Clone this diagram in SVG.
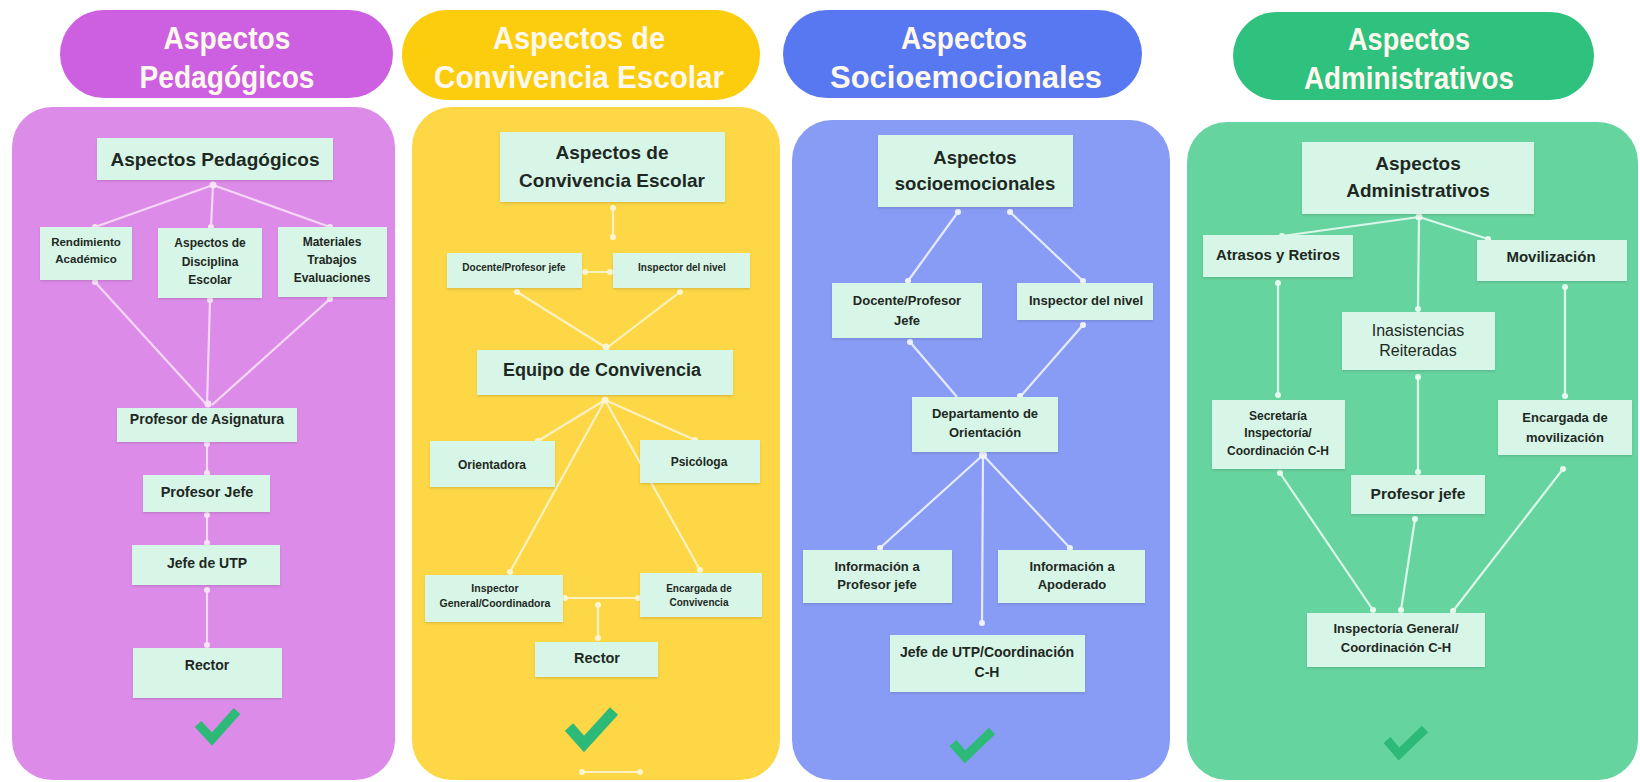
<svg xmlns="http://www.w3.org/2000/svg" width="1640" height="782" viewBox="0 0 1640 782">
<defs>
<filter id="sh" x="-10%" y="-10%" width="120%" height="130%">
<feDropShadow dx="0" dy="1.5" stdDeviation="1" flood-color="#000000" flood-opacity="0.12"/>
</filter>
</defs>
<style>
.hd{font-family:"Liberation Sans",Arial,sans-serif;font-weight:bold;font-size:32px;fill:#fff8ee;text-anchor:middle}
.nb{fill:#d8f6e7;filter:url(#sh)}
.t{font-family:"Liberation Sans",Arial,sans-serif;font-weight:bold;fill:#1e2823;text-anchor:middle}
.r{font-weight:normal}
.cp{stroke:#f5d8f6;stroke-width:2.2;fill:none}
.cy{stroke:#fff2c2;stroke-width:2.2;fill:none}
.cb{stroke:#e5eaff;stroke-width:2.2;fill:none}
.cg{stroke:#dcf7ea;stroke-width:2.2;fill:none}
.dp{fill:#f7e2f8}.dy{fill:#fff5d0}.db{fill:#eef1ff}.dg{fill:#e6faef}
.chk{fill:none;stroke:#2dba78;stroke-width:9;stroke-linecap:butt;stroke-linejoin:miter}
</style>
<rect width="1640" height="782" fill="#ffffff"/>

<!-- headers -->
<g id="hdr-pedagogicos">
<rect x="60" y="10" width="333" height="88" rx="44" fill="#cd5fe1"/>
<text class="hd" x="227" y="49" textLength="127" lengthAdjust="spacingAndGlyphs">Aspectos</text>
<text class="hd" x="227" y="88" textLength="175" lengthAdjust="spacingAndGlyphs">Pedagógicos</text>
</g>
<g id="hdr-convivencia">
<rect x="402" y="10" width="358" height="90" rx="45" fill="#fccd0c"/>
<text class="hd" x="579" y="49" textLength="172" lengthAdjust="spacingAndGlyphs">Aspectos de</text>
<text class="hd" x="579" y="88" textLength="290" lengthAdjust="spacingAndGlyphs">Convivencia Escolar</text>
</g>
<g id="hdr-socioemocionales">
<rect x="783" y="10" width="359" height="88" rx="44" fill="#5878f1"/>
<text class="hd" x="964" y="49" textLength="126" lengthAdjust="spacingAndGlyphs">Aspectos</text>
<text class="hd" x="966" y="88" textLength="272" lengthAdjust="spacingAndGlyphs">Socioemocionales</text>
</g>
<g id="hdr-administrativos">
<rect x="1233" y="12" width="361" height="88" rx="44" fill="#2fc17e"/>
<text class="hd" x="1409" y="50" textLength="122" lengthAdjust="spacingAndGlyphs">Aspectos</text>
<text class="hd" x="1409" y="89" textLength="210" lengthAdjust="spacingAndGlyphs">Administrativos</text>
</g>

<!-- panels -->
<rect id="panel-pink" x="12" y="107" width="383" height="673" rx="40" fill="#dc8ce8"/>
<rect id="panel-yellow" x="412" y="107" width="368" height="673" rx="40" fill="#fdd745"/>
<rect id="panel-blue" x="792" y="120" width="378" height="660" rx="40" fill="#889cf5"/>
<rect id="panel-green" x="1187" y="122" width="451" height="658" rx="40" fill="#66d49f"/>

<!-- connectors -->
<g id="connectors">
<g class="cp">
<path d="M213 185 L95 227 M213 185 L211 227 M213 185 L330 227"/>
<path d="M95 282 L207 405 M210 300 L207 405 M330 299 L212 405"/>
<path d="M207 443 V474 M207 513 V544 M207 588 V646"/>
</g>
<g class="dp">
<circle cx="213" cy="185" r="3.5"/><circle cx="95" cy="227" r="3"/><circle cx="211" cy="227" r="3"/><circle cx="330" cy="227" r="3"/>
<circle cx="95" cy="282" r="3"/><circle cx="210" cy="300" r="3"/><circle cx="330" cy="299" r="3"/><circle cx="208" cy="404" r="3.5"/>
<circle cx="207" cy="444" r="3"/><circle cx="207" cy="473" r="3"/><circle cx="207" cy="515" r="3"/><circle cx="207" cy="543" r="3"/>
<circle cx="207" cy="590" r="3"/><circle cx="207" cy="645" r="3"/>
</g>
<g class="cy">
<path d="M613 208 V237 M585 272 H610"/>
<path d="M517 292 L605 347 M680 292 L608 347"/>
<path d="M605 400 L538 441 M605 400 L695 440 M605 400 L510 572 M605 400 L700 570"/>
<path d="M565 598 H638 M598 605 V638 M582 772 H640"/>
</g>
<g class="dy">
<circle cx="613" cy="208" r="3"/><circle cx="613" cy="237" r="3"/><circle cx="585" cy="272" r="3"/><circle cx="610" cy="272" r="3"/>
<circle cx="517" cy="292" r="3"/><circle cx="680" cy="292" r="3"/><circle cx="606" cy="347" r="3.5"/>
<circle cx="605" cy="400" r="3.5"/><circle cx="538" cy="441" r="3"/><circle cx="695" cy="440" r="3"/><circle cx="510" cy="572" r="3"/><circle cx="700" cy="570" r="3"/>
<circle cx="565" cy="598" r="3"/><circle cx="638" cy="598" r="3"/><circle cx="598" cy="605" r="3"/><circle cx="598" cy="638" r="3"/>
<circle cx="582" cy="772" r="3"/><circle cx="640" cy="772" r="3"/>
</g>
<g class="cb">
<path d="M958 212 L908 281 M1010 212 L1083 281"/>
<path d="M910 342 L957 397 M1083 325 L1020 397"/>
<path d="M983 455 L880 548 M983 455 L1070 548 M983 455 L982 623"/>
</g>
<g class="db">
<circle cx="958" cy="212" r="3"/><circle cx="1010" cy="212" r="3"/><circle cx="908" cy="281" r="3"/><circle cx="1083" cy="281" r="3"/>
<circle cx="910" cy="342" r="3"/><circle cx="1083" cy="325" r="3"/><circle cx="1020" cy="396" r="3"/>
<circle cx="983" cy="455" r="4"/><circle cx="880" cy="548" r="3"/><circle cx="1070" cy="548" r="3"/><circle cx="982" cy="623" r="3"/>
</g>
<g class="cg">
<path d="M1419 217 L1282 236 M1419 217 L1488 239 M1419 217 L1418 309"/>
<path d="M1278 283 V395 M1565 287 V396 M1418 377 V472"/>
<path d="M1280 473 L1373 610 M1415 519 L1401 610 M1563 469 L1453 611"/>
</g>
<g class="dg">
<circle cx="1419" cy="217" r="3.5"/><circle cx="1282" cy="236" r="3"/><circle cx="1488" cy="239" r="3"/><circle cx="1418" cy="309" r="3"/>
<circle cx="1278" cy="283" r="3"/><circle cx="1278" cy="395" r="3"/><circle cx="1565" cy="287" r="3"/><circle cx="1565" cy="396" r="3"/>
<circle cx="1418" cy="377" r="3"/><circle cx="1418" cy="472" r="3"/>
<circle cx="1280" cy="473" r="3"/><circle cx="1373" cy="610" r="3"/><circle cx="1415" cy="519" r="3"/><circle cx="1401" cy="610" r="3"/><circle cx="1563" cy="469" r="3"/><circle cx="1453" cy="611" r="3"/>
</g>
</g>

<!-- pink nodes -->
<g id="p-title"><rect class="nb" x="97" y="138" width="236" height="42"/><text class="t" x="215" y="166" font-size="19">Aspectos Pedagógicos</text></g>
<g id="p-rendimiento"><rect class="nb" x="40" y="227" width="92" height="53"/><text class="t" x="86" y="246" font-size="11.5">Rendimiento</text><text class="t" x="86" y="263" font-size="11.5">Académico</text></g>
<g id="p-disciplina"><rect class="nb" x="158" y="228" width="104" height="70"/><text class="t" x="210" y="247" font-size="12">Aspectos de</text><text class="t" x="210" y="266" font-size="12">Disciplina</text><text class="t" x="210" y="284" font-size="12">Escolar</text></g>
<g id="p-materiales"><rect class="nb" x="278" y="227" width="109" height="70"/><text class="t" x="332" y="246" font-size="12">Materiales</text><text class="t" x="332" y="264" font-size="12">Trabajos</text><text class="t" x="332" y="282" font-size="12">Evaluaciones</text></g>
<g id="p-asignatura"><rect class="nb" x="117" y="408" width="180" height="34"/><text class="t" x="207" y="424" font-size="14">Profesor de Asignatura</text></g>
<g id="p-jefe"><rect class="nb" x="143" y="475" width="127" height="37"/><text class="t" x="207" y="497" font-size="14.5">Profesor Jefe</text></g>
<g id="p-utp"><rect class="nb" x="132" y="545" width="148" height="40"/><text class="t" x="207" y="568" font-size="14">Jefe de UTP</text></g>
<g id="p-rector"><rect class="nb" x="133" y="648" width="149" height="50"/><text class="t" x="207" y="670" font-size="14">Rector</text></g>
<polyline class="chk" points="198,724 212,739 237,711"/>

<!-- yellow nodes -->
<g id="y-title"><rect class="nb" x="500" y="132" width="225" height="70"/><text class="t" x="612" y="159" font-size="19">Aspectos de</text><text class="t" x="612" y="187" font-size="19">Convivencia Escolar</text></g>
<g id="y-docente"><rect class="nb" x="447" y="253" width="135" height="35"/><text class="t" x="514" y="270.5" font-size="10">Docente/Profesor jefe</text></g>
<g id="y-inspector"><rect class="nb" x="613" y="253" width="137" height="35"/><text class="t" x="682" y="270.5" font-size="10">Inspector del nivel</text></g>
<g id="y-equipo"><rect class="nb" x="477" y="350" width="256" height="45"/><text class="t" x="602" y="376" font-size="18">Equipo de Convivencia</text></g>
<g id="y-orientadora"><rect class="nb" x="430" y="441" width="125" height="46"/><text class="t" x="492" y="469" font-size="12">Orientadora</text></g>
<g id="y-psicologa"><rect class="nb" x="640" y="440" width="120" height="43"/><text class="t" x="699" y="466" font-size="12">Psicóloga</text></g>
<g id="y-inspgen"><rect class="nb" x="425" y="575" width="138" height="47"/><text class="t" x="495" y="592" font-size="10.5">Inspector</text><text class="t" x="495" y="607" font-size="10.5">General/Coordinadora</text></g>
<g id="y-encargada"><rect class="nb" x="640" y="573" width="122" height="44"/><text class="t" x="699" y="591.5" font-size="10">Encargada de</text><text class="t" x="699" y="605.5" font-size="10">Convivencia</text></g>
<g id="y-rector"><rect class="nb" x="535" y="642" width="123" height="35"/><text class="t" x="597" y="663" font-size="14.5">Rector</text></g>
<polyline class="chk" points="569,727 584,744 614,711" style="stroke-width:11"/>

<!-- blue nodes -->
<g id="b-title"><rect class="nb" x="878" y="135" width="195" height="72"/><text class="t" x="975" y="163.5" font-size="18.5">Aspectos</text><text class="t" x="975" y="189.5" font-size="18.5">socioemocionales</text></g>
<g id="b-docente"><rect class="nb" x="832" y="283" width="150" height="55"/><text class="t" x="907" y="304.5" font-size="13">Docente/Profesor</text><text class="t" x="907" y="324.5" font-size="13">Jefe</text></g>
<g id="b-inspector"><rect class="nb" x="1017" y="283" width="136" height="37"/><text class="t" x="1086" y="304.5" font-size="13">Inspector del nivel</text></g>
<g id="b-depto"><rect class="nb" x="912" y="397" width="146" height="55"/><text class="t" x="985" y="417.5" font-size="13">Departamento de</text><text class="t" x="985" y="436.5" font-size="13">Orientación</text></g>
<g id="b-infoprof"><rect class="nb" x="803" y="550" width="149" height="53"/><text class="t" x="877" y="570.5" font-size="13">Información a</text><text class="t" x="877" y="588.5" font-size="13">Profesor jefe</text></g>
<g id="b-infoapod"><rect class="nb" x="998" y="550" width="147" height="53"/><text class="t" x="1072" y="570.5" font-size="13">Información a</text><text class="t" x="1072" y="588.5" font-size="13">Apoderado</text></g>
<g id="b-utp"><rect class="nb" x="890" y="635" width="195" height="57"/><text class="t" x="987" y="657" font-size="14">Jefe de UTP/Coordinación</text><text class="t" x="987" y="677" font-size="14">C-H</text></g>
<polyline class="chk" points="953,743 965,757 992,731"/>

<!-- green nodes -->
<g id="g-title"><rect class="nb" x="1302" y="142" width="232" height="72"/><text class="t" x="1418" y="169.5" font-size="19">Aspectos</text><text class="t" x="1418" y="196.5" font-size="19">Administrativos</text></g>
<g id="g-atrasos"><rect class="nb" x="1203" y="235" width="150" height="42"/><text class="t" x="1278" y="260" font-size="15">Atrasos y Retiros</text></g>
<g id="g-movilizacion"><rect class="nb" x="1477" y="240" width="150" height="41"/><text class="t" x="1551" y="262" font-size="15">Movilización</text></g>
<g id="g-inasistencias"><rect class="nb" x="1342" y="312" width="153" height="58"/><text class="t r" x="1418" y="335.5" font-size="16">Inasistencias</text><text class="t r" x="1418" y="355.5" font-size="16">Reiteradas</text></g>
<g id="g-secretaria"><rect class="nb" x="1212" y="400" width="133" height="69"/><text class="t" x="1278" y="420" font-size="12">Secretaría</text><text class="t" x="1278" y="437" font-size="12">Inspectoría/</text><text class="t" x="1278" y="455" font-size="12">Coordinación C-H</text></g>
<g id="g-encargada"><rect class="nb" x="1498" y="400" width="134" height="55"/><text class="t" x="1565" y="421.5" font-size="13">Encargada de</text><text class="t" x="1565" y="441.5" font-size="13">movilización</text></g>
<g id="g-profjefe"><rect class="nb" x="1351" y="475" width="134" height="39"/><text class="t" x="1418" y="498.5" font-size="15.5">Profesor jefe</text></g>
<g id="g-inspgen"><rect class="nb" x="1307" y="613" width="178" height="54"/><text class="t" x="1396" y="632.5" font-size="13">Inspectoría General/</text><text class="t" x="1396" y="651.5" font-size="13">Coordinación C-H</text></g>
<polyline class="chk" points="1387,740 1399,754 1425,729"/>
</svg>
